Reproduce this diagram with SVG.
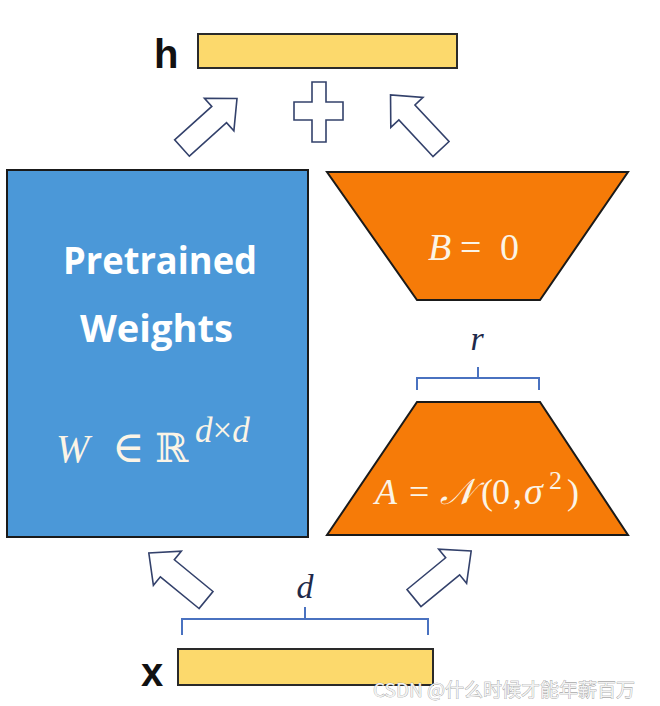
<svg xmlns="http://www.w3.org/2000/svg" width="660" height="706" viewBox="0 0 660 706">
<style>
.bar{fill:#fcd96c;stroke:#2a2a2a;stroke-width:2}
.arr{fill:#ffffff;stroke:#33416b;stroke-width:1.6;stroke-linejoin:miter}
.brk{fill:none;stroke:#4a72c0;stroke-width:2}
.orange{fill:#f67b08;stroke:#1a1a1a;stroke-width:2}
.lbl{font-family:"Liberation Sans",Arial,sans-serif;font-weight:bold;fill:#111}
.math{font-family:"Liberation Serif","DejaVu Serif",serif;fill:#fbf4e6}
.title{font-family:"Open Sans","Lato",sans-serif;font-weight:bold;fill:#ffffff;font-size:37px}
</style>
<defs>
<path id="blk" d="M0,-11 L50,-11 L50,-22 L74,0 L50,22 L50,11 L0,11 Z"/>
</defs>
<rect width="660" height="706" fill="#ffffff"/>

<g id="h-output">
<rect class="bar" x="198" y="34" width="259" height="34"/>
<text class="lbl" x="154" y="68" font-size="40">h</text>
</g>

<g id="plus">
<path class="arr" d="M312,82 H326 V102 H343 V120 H326 V142 H312 V120 H294 V102 H312 Z"/>
</g>

<g id="pretrained">
<rect x="7" y="170" width="301" height="367" fill="#4b98d8" stroke="#1a1a1a" stroke-width="2"/>
<text class="title" x="63" y="274" textLength="194" lengthAdjust="spacingAndGlyphs">Pretrained</text>
<text class="title" x="80" y="342" textLength="153" lengthAdjust="spacingAndGlyphs">Weights</text>
<text class="math" y="462" font-size="40"><tspan x="56" font-style="italic">W</tspan><tspan x="112" font-size="44">∈</tspan><tspan x="155" font-family="DejaVu Serif">ℝ</tspan><tspan x="195" y="442" font-size="35" font-style="italic">d</tspan><tspan font-size="35">×</tspan><tspan font-size="35" font-style="italic">d</tspan></text>
</g>

<g id="B">
<polygon class="orange" points="327,172 628,172 540,300 417,300"/>
<text class="math" y="260" font-size="38"><tspan x="428" font-style="italic">B</tspan><tspan x="460">=</tspan><tspan x="500">0</tspan></text>
</g>

<g id="A">
<polygon class="orange" points="417,402 540,402 628,535 327,535"/>
<text class="math" y="504" font-size="36"><tspan x="375" font-style="italic">A</tspan><tspan x="409">=</tspan><tspan x="440" font-style="italic">𝒩</tspan><tspan x="481">(</tspan><tspan x="492">0</tspan><tspan x="513">,</tspan><tspan x="524" font-style="italic" font-size="38">σ</tspan><tspan x="549" y="489" font-size="26">2</tspan><tspan x="567" y="504">)</tspan></text>
</g>

<g id="r-brace">
<path class="brk" d="M417,390 V378 H539 V390 M478,378 V367"/>
<text x="477" y="350" font-family="Liberation Serif, serif" font-style="italic" font-size="34" fill="#1f2a4a" text-anchor="middle">r</text>
</g>

<g id="d-brace">
<path class="brk" d="M182,635 V619 H428 V635 M305,619 V607"/>
<text x="305" y="598" font-family="Liberation Serif, serif" font-style="italic" font-size="34" fill="#1f2a4a" text-anchor="middle">d</text>
</g>

<g id="x-input">
<rect class="bar" x="178" y="649" width="255" height="36"/>
<text class="lbl" x="141" y="686" font-size="40">x</text>
</g>

<g id="connectors">
<use href="#blk" class="arr" transform="translate(182,148) rotate(-42)"/>
<use href="#blk" class="arr" transform="translate(441,149) rotate(-133)"/>
<use href="#blk" class="arr" transform="translate(206,600) rotate(-140.6)"/>
<use href="#blk" class="arr" transform="translate(414,598) rotate(-39.4)"/>
</g>

<text x="373" y="697" font-family="'Noto Sans CJK SC', sans-serif" font-size="19" fill="#f2f2f2" stroke="#8a8a8a" stroke-width="0.6" paint-order="stroke">CSDN @什么时候才能年薪百万</text>
</svg>
